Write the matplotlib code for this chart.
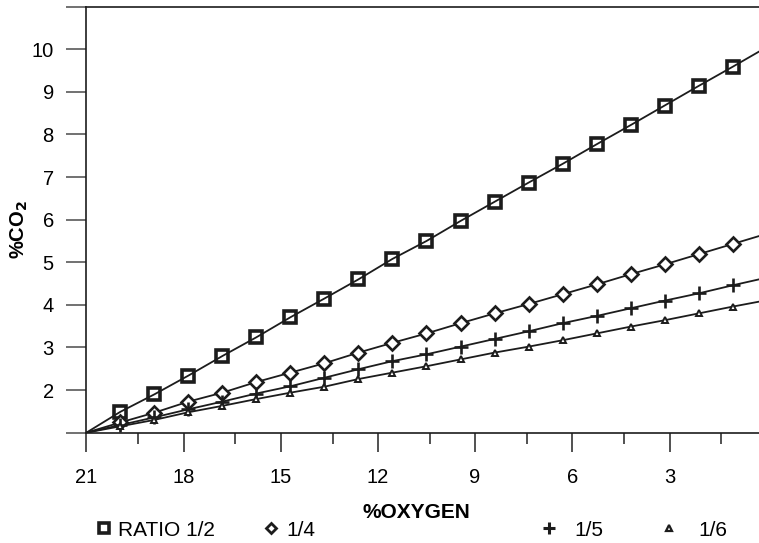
import matplotlib

matplotlib.use("Agg")
import matplotlib.pyplot as plt
from matplotlib.lines import Line2D

plt.rcParams["font.family"] = ["Liberation Sans", "DejaVu Sans"]

# oxygen readings where markers sit (x axis runs from 21 down to 0)
oxygen_marks = [19.95, 18.9, 17.85, 16.8, 15.75, 14.7, 13.65, 12.6, 11.55, 10.5,
                9.45, 8.4, 7.35, 6.3, 5.25, 4.2, 3.15, 2.1, 1.05]
oxygen_start = 21.0
oxygen_end = 0.0
co2_start = 1.0

ratio_half = [1.49, 1.90, 2.34, 2.80, 3.24, 3.71, 4.15, 4.60, 5.08, 5.50,
              5.97, 6.42, 6.87, 7.31, 7.77, 8.22, 8.68, 9.14, 9.59]
ratio_quarter = [1.24, 1.47, 1.73, 1.94, 2.19, 2.41, 2.63, 2.88, 3.11, 3.33,
                 3.57, 3.80, 4.02, 4.25, 4.48, 4.72, 4.95, 5.19, 5.43]
ratio_fifth = [1.18, 1.36, 1.55, 1.73, 1.92, 2.09, 2.29, 2.49, 2.68, 2.84,
               3.02, 3.20, 3.38, 3.57, 3.74, 3.92, 4.10, 4.27, 4.46]
ratio_sixth = [1.15, 1.30, 1.48, 1.63, 1.79, 1.94, 2.08, 2.26, 2.41, 2.56,
               2.72, 2.88, 3.02, 3.17, 3.33, 3.49, 3.64, 3.80, 3.96]
# value where each line leaves the plot at 0 % oxygen
line_ends = [10.05, 5.67, 4.64, 4.11]

series_labels = ["RATIO 1/2", "1/4", "1/5", "1/6"]
x_ticks = [21, 18, 15, 12, 9, 6, 3]
x_minor = [19.4, 16.4, 13.4, 10.4, 7.4, 4.4, 1.4]
y_ticks = [1, 2, 3, 4, 5, 6, 7, 8, 9, 10, 11]
y_ticklabels = ["", "2", "3", "4", "5", "6", "7", "8", "9", "10", ""]

INK = "#1c1c1c"
styles = [
    dict(marker="s", ms=8.5, mew=2.6, mfc="none"),
    dict(marker="D", ms=7.0, mew=1.9, mfc="white"),
    dict(marker="+", ms=10, mew=1.9),
    dict(marker="^", ms=5.0, mew=1.4, mfc="white"),
]
legend_styles = [
    dict(marker="s", ms=6.5, mew=2.6, mfc="white"),
    dict(marker="D", ms=5.5, mew=2.0, mfc="white"),
    dict(marker="+", ms=9, mew=2.2),
    dict(marker="^", ms=4.5, mew=1.6, mfc="white"),
]

fig = plt.figure(figsize=(7.59, 5.43), dpi=100)
ax = fig.add_axes([86.3 / 759, 1 - 432.7 / 543, 1 - 86.3 / 759, (432.7 - 6.7) / 543])

all_series = [ratio_half, ratio_quarter, ratio_fifth, ratio_sixth]
for values, end, style in zip(all_series, line_ends, styles):
    xs = [oxygen_start] + oxygen_marks + [oxygen_end]
    ys = [co2_start] + values + [end]
    ax.plot(xs, ys, color=INK, lw=1.3, zorder=2)
    ax.plot(oxygen_marks, values, ls="none", color=INK, mec=INK, zorder=3, **style)

ax.set_xlim(21, 21 - (759 - 86.3) / 32.4)
ax.set_ylim(1, 11)

ax.set_xticks(x_ticks)
ax.set_xticklabels([str(t) for t in x_ticks])
ax.set_xticks(x_minor, minor=True)
ax.set_yticks(y_ticks)
ax.set_yticklabels(y_ticklabels)

ax.tick_params(axis="x", which="major", direction="out", length=13.7, width=1.2,
               color="#333333", labelsize=14.5, pad=12)
ax.tick_params(axis="x", which="minor", direction="out", length=8, width=1.2,
               color="#333333")
ax.tick_params(axis="y", which="major", direction="out", length=14.4, width=1.3,
               color="#666666", labelsize=14.5, pad=9)

for side in ["left", "bottom", "top"]:
    ax.spines[side].set_color(INK)
    ax.spines[side].set_linewidth(1.2)
ax.spines["right"].set_visible(False)

fig.text(19 / 759, 1 - 230 / 543, "%CO$_\\mathbf{2}$", rotation=90, ha="center",
         va="center", fontsize=14.5, fontweight="bold")
fig.text(416 / 759, 1 - 512 / 543, "%OXYGEN", ha="center", va="center",
         fontsize=15, fontweight="bold")

# one small legend per entry, spaced as in the original
legend_x = [95.2, 262.2, 540.2, 660.2]
legend_pads = [0.3, 0.35, 0.85, 1.05]
for label, style, lx, pad in zip(series_labels, legend_styles, legend_x, legend_pads):
    handle = Line2D([], [], ls="none", color=INK, mec=INK, **style)
    fig.legend(handles=[handle], labels=[label], loc="center left",
               bbox_to_anchor=(lx / 759, 1 - 530 / 543), frameon=False,
               fontsize=15, handlelength=0.8, handletextpad=pad,
               borderpad=0, borderaxespad=0)

fig.savefig("out.png", dpi=100)
